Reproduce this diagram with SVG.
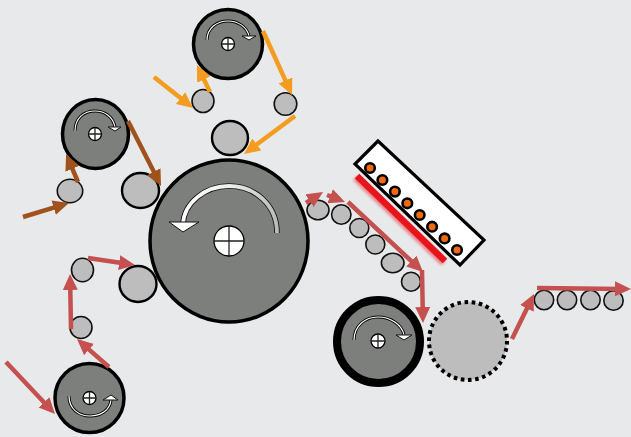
<svg xmlns="http://www.w3.org/2000/svg" width="631" height="437" viewBox="0 0 631 437">
<style>
.roller{fill:#7d7f7d;stroke:#000;stroke-width:3.5}
.small{fill:#bdbdbd;stroke:#111;stroke-width:1.6}
.medium{fill:#bdbdbd;stroke:#000;stroke-width:2.4}
.hub{fill:#fff;stroke:#000;stroke-width:1.3}
.cross{stroke:#222;stroke-width:1.3;fill:none}
.arcO{fill:none;stroke:#000;stroke-width:3}
.arcI{fill:none;stroke:#fff;stroke-width:1.2}
.head{fill:#fff;stroke:#111;stroke-width:1}
.o{stroke:#f39c1f;stroke-width:4.5;fill:none;marker-end:url(#mo)}
.b{stroke:#a0521c;stroke-width:4.5;fill:none;marker-end:url(#mb)}
.r{stroke:#c4504f;stroke-width:4.5;fill:none;marker-end:url(#mr)}
.lamp{fill:#f26a10;stroke:#000;stroke-width:2.6}
</style>
<defs>
<marker id="mo" markerUnits="userSpaceOnUse" markerWidth="16" markerHeight="16" refX="6" refY="8" orient="auto"><path d="M0,0.500L16,8L0,15.500z" fill="#f39c1f"/></marker>
<marker id="mb" markerUnits="userSpaceOnUse" markerWidth="16" markerHeight="16" refX="6" refY="8" orient="auto"><path d="M0,0.500L16,8L0,15.500z" fill="#a0521c"/></marker>
<marker id="mr" markerUnits="userSpaceOnUse" markerWidth="16" markerHeight="16" refX="6" refY="8" orient="auto"><path d="M0,0.500L16,8L0,15.500z" fill="#c4504f"/></marker>
<linearGradient id="fade" gradientUnits="userSpaceOnUse" x1="183" y1="200" x2="277" y2="200"><stop offset="0" stop-color="#fff"/><stop offset=".5" stop-color="#eee"/><stop offset="1" stop-color="#bbb"/></linearGradient>
<filter id="soft" x="-20%" y="-20%" width="140%" height="140%"><feGaussianBlur stdDeviation="1.5"/></filter>
</defs>
<rect width="631" height="437" fill="#e8e9eb"/>

<g id="main-drum">
<ellipse class="roller" cx="229" cy="241" rx="79" ry="81"/>
<path d="M277,233C277,205 255,186 229,186C205,186 184,203 183,224" fill="none" stroke="#111" stroke-width="5.500"/>
<path d="M277,233C277,205 255,186 229,186C205,186 184,203 183,224" fill="none" stroke="url(#fade)" stroke-width="3.800"/>
<path class="head" d="M169,222L199,222L183,232z"/>
<circle class="hub" cx="229" cy="241" r="15"/>
<path class="cross" d="M214,241H244M229,226V256"/>
</g>

<g id="top-roller">
<circle class="roller" cx="228" cy="44" r="34.5"/>
<path class="arcO" d="M207,40C207,28 217,21 228,21C238,21 247,27 249,36"/>
<path class="arcI" d="M207,40C207,28 217,21 228,21C238,21 247,27 249,36"/>
<path class="head" d="M242,36L256,36L249,40z"/>
<circle class="hub" cx="228" cy="44" r="6.5"/>
<path class="cross" d="M221.500,44H234.500M228,37.500V50.500"/>
</g>

<g id="left-roller">
<ellipse class="roller" cx="95.500" cy="134" rx="33" ry="34.500"/>
<path class="arcO" d="M75,131C75,118 84,111 95,111C105,111 113,117 115,127"/>
<path class="arcI" d="M75,131C75,118 84,111 95,111C105,111 113,117 115,127"/>
<path class="head" d="M108,127L121,127L115,131z"/>
<circle class="hub" cx="95" cy="134" r="6.500"/>
<path class="cross" d="M88.500,134H101.500M95,127.500V140.500"/>
</g>

<g id="bottom-roller">
<circle class="roller" cx="89.500" cy="398" r="34.500"/>
<path class="arcO" d="M69,396C69,409 79,416 90,416C101,416 110,410 111,400"/>
<path class="arcI" d="M69,396C69,409 79,416 90,416C101,416 110,410 111,400"/>
<path class="head" d="M103,400L118,400L111,395z"/>
<circle class="hub" cx="89.500" cy="398" r="6.500"/>
<path class="cross" d="M83,398H96M89.500,391.500V404.500"/>
</g>

<g id="thick-roller">
<circle cx="378.500" cy="341.500" r="41.500" fill="#7d7f7d" stroke="#000" stroke-width="8"/>
<path class="arcO" d="M354,340C354,326 365,317 378,317C391,317 402,325 404,335"/>
<path class="arcI" d="M354,340C354,326 365,317 378,317C391,317 402,325 404,335"/>
<path class="head" d="M396,335L412,335L404,340z"/>
<circle class="hub" cx="378" cy="341" r="7"/>
<path class="cross" d="M371,341H385M378,334V348"/>
</g>

<g id="dotted-roller">
<circle cx="468" cy="341" r="39" fill="#bdbdbd" stroke="#000" stroke-width="4" stroke-dasharray="3.600 3.600"/>
</g>

<g id="heater">
<polygon points="378,141 355,164 460,265 484,240" fill="#fff" stroke="#000" stroke-width="3.200"/>
<circle class="lamp" cx="370" cy="168" r="4.800"/>
<circle class="lamp" cx="382.400" cy="180" r="4.800"/>
<circle class="lamp" cx="394.900" cy="191.600" r="4.800"/>
<circle class="lamp" cx="407.300" cy="203.300" r="4.800"/>
<circle class="lamp" cx="419.700" cy="215" r="4.800"/>
<circle class="lamp" cx="432.100" cy="226.700" r="4.800"/>
<circle class="lamp" cx="444.600" cy="238.400" r="4.800"/>
<circle class="lamp" cx="457" cy="250" r="4.800"/>
</g>

<g id="reflector">
<line x1="355.500" y1="178" x2="443.500" y2="263" stroke="#e8141c" stroke-width="6.500" opacity=".5" filter="url(#soft)"/>
<line x1="357" y1="176" x2="445" y2="261" stroke="#e8141c" stroke-width="6.500"/>
</g>

<g id="small-rollers">
<ellipse id="s1" class="small" cx="203" cy="101" rx="11" ry="11.500"/>
<circle id="s2" class="small" cx="285.500" cy="104" r="11.300"/>
<ellipse id="s3" class="medium" cx="230" cy="138" rx="18" ry="17"/>
<ellipse id="s4" class="small" cx="70" cy="191" rx="12.700" ry="11.700"/>
<ellipse id="s5" class="medium" cx="140.500" cy="190.500" rx="18.500" ry="17.500"/>
<ellipse id="s6" class="small" cx="82.500" cy="270" rx="11" ry="11.700"/>
<circle id="s7" class="small" cx="81" cy="327.500" r="11"/>
<ellipse id="s8" class="medium" cx="138" cy="284" rx="18.500" ry="18"/>
<ellipse id="s9" class="small" cx="318" cy="210" rx="11" ry="9.800"/>
<circle id="s10" class="small" cx="341.300" cy="214.500" r="9.700"/>
<circle id="s11" class="small" cx="359.300" cy="228" r="9.500"/>
<circle id="s12" class="small" cx="375.300" cy="244.500" r="9.500"/>
<ellipse id="s13" class="small" cx="392.700" cy="263" rx="11.300" ry="9.700"/>
<circle id="s14" class="small" cx="411" cy="281.700" r="9.500"/>
<circle id="s15" class="small" cx="544" cy="300" r="9.700"/>
<circle id="s16" class="small" cx="567" cy="300" r="9.700"/>
<circle id="s17" class="small" cx="590.500" cy="300" r="9.700"/>
<circle id="s18" class="small" cx="613.500" cy="300.500" r="9.700"/>
</g>

<g id="connectors">
<path class="o" d="M154,77L185.200,101.800"/>
<path class="o" d="M210,92L201.300,74"/>
<path class="o" d="M263,31L287.900,85.900"/>
<path class="o" d="M295,116L252,148"/>
<path class="b" d="M23,217L59.400,205.900"/>
<path class="b" d="M78,182L70,163.200"/>
<path class="b" d="M128,121L156.500,177.100"/>
<path class="r" d="M6,362L48.100,406.700"/>
<path class="r" d="M109,367L84.500,345.600"/>
<path class="r" d="M71,329L70.200,284"/>
<path class="r" d="M88,258L125.100,263.500"/>
<path class="r" d="M306,203L314.600,197.400"/>
<path class="r" d="M327,195L335.700,198.400"/>
<path class="r" d="M348,202L415.700,265.200"/>
<path class="r" d="M422,270L422.800,313"/>
<path class="r" d="M512,339L529.600,303"/>
<path class="r" d="M537,288L621,288.900"/>
</g>
</svg>
